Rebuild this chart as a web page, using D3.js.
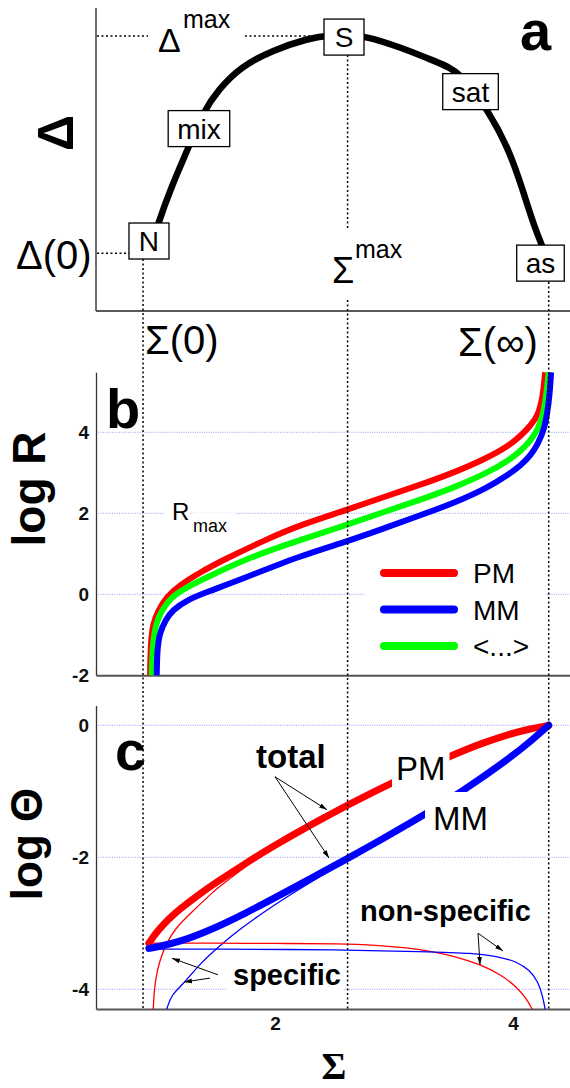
<!DOCTYPE html>
<html><head><meta charset="utf-8">
<script src="https://cdn.jsdelivr.net/npm/d3@7"></script>
<style>html,body{margin:0;padding:0;background:#fff;} svg{display:block;}</style>
</head><body>
<svg id="chart" width="570" height="1088"></svg>
<script>
// ---------- data ----------
const sigmaTicks = [2, 4];
const logRTicks = [-2, 0, 2, 4];
const logThetaTicks = [-4, -2, 0];
const sigmaRefLines = [0.891, 2.61, 4.30];          // Σ(0), Σmax, Σ(∞)
const deltaRefLines = [1.91, 9.08];                 // Δ(0), Δmax

// panel a: Δ vs Σ
const deltaSigma = [0.945, 1.018, 1.128, 1.275, 1.404, 1.523, 1.706, 1.982, 2.284, 2.45, 2.61, 2.75, 3.055, 3.358, 3.56, 3.79, 3.97, 4.09, 4.18, 4.25, 4.30];
const deltaValue = [1.91, 2.90, 4.09, 5.41, 6.63, 7.29, 8.05, 8.61, 9.00, 9.10, 9.12, 9.08, 8.71, 8.22, 7.89, 6.63, 5.31, 3.89, 2.77, 2.11, 1.52];
const stateLabels = ["N", "mix", "S", "sat", "as"];
const stateSigma = [0.941, 1.361, 2.58, 3.643, 4.231];
const stateDelta = [2.31, 6.02, 9.04, 7.24, 1.58];

// panel b: log R vs Σ
const rSigmaPM = [0.95, 0.955, 0.975, 1.02, 1.09, 1.20, 1.37, 1.56, 1.93, 2.21, 2.60, 2.91, 3.22, 3.50, 3.78, 3.97, 4.06, 4.15, 4.21, 4.25, 4.27];
const rPM = [-2.0, -1.20, -0.71, -0.39, -0.06, 0.23, 0.54, 0.84, 1.36, 1.71, 2.08, 2.40, 2.70, 3.00, 3.36, 3.68, 3.90, 4.17, 4.42, 4.85, 5.48];
const rSigmaMM = [1.006, 1.01, 1.03, 1.08, 1.14, 1.26, 1.43, 1.70, 2.21, 2.60, 2.91, 3.22, 3.50, 3.78, 3.97, 4.06, 4.15, 4.21, 4.26, 4.29, 4.31, 4.32];
const rMM = [-2.0, -1.38, -0.96, -0.63, -0.39, -0.14, 0.06, 0.35, 0.95, 1.30, 1.62, 1.95, 2.25, 2.62, 2.97, 3.17, 3.43, 3.72, 4.05, 4.5, 5.0, 5.48];
const rSigmaAvg = [0.964, 0.972, 1.0, 1.05, 1.13, 1.26, 1.43, 1.79, 2.21, 2.60, 2.91, 3.22, 3.50, 3.78, 3.97, 4.06, 4.15, 4.21, 4.25, 4.28, 4.30];
const rAvg = [-2.0, -1.20, -0.71, -0.39, -0.06, 0.18, 0.42, 0.92, 1.34, 1.71, 2.03, 2.33, 2.63, 2.99, 3.32, 3.53, 3.80, 4.08, 4.40, 4.9, 5.48];
const legendLabels = ["PM", "MM", "<...>"];

// panel c: log Θ vs Σ
const tSigmaPM = [0.94, 1.0, 1.1, 1.2, 1.35, 1.5, 1.75, 2.0, 2.3, 2.61, 3.0, 3.48, 3.75, 3.97, 4.15, 4.30];
const tPM = [-3.30, -3.144, -2.944, -2.784, -2.577, -2.387, -2.092, -1.817, -1.508, -1.207, -0.852, -0.458, -0.264, -0.132, -0.051, 0];
const tSigmaMM = [0.94, 1.0, 1.2, 1.48, 1.76, 2.04, 2.32, 2.61, 2.86, 3.27, 3.57, 3.97, 4.15, 4.30];
const tMM = [-3.38, -3.362, -3.282, -3.086, -2.840, -2.574, -2.302, -2.018, -1.768, -1.342, -1.006, -0.502, -0.241, 0];
const sSigmaPM = [0.977, 0.986, 1.01, 1.048, 1.09, 1.16, 1.29, 1.48, 1.60, 1.80, 2.0];
const sPM = [-4.30, -3.98, -3.71, -3.48, -3.30, -3.08, -2.85, -2.52, -2.35, -2.08, -1.83];
const sSigmaMM = [1.09, 1.13, 1.23, 1.37, 1.54, 1.71, 1.93, 2.10, 2.35, 2.61];
const sMM = [-4.30, -4.08, -3.92, -3.61, -3.33, -3.08, -2.80, -2.60, -2.32, -2.04];
const nSigmaPM = [0.94, 1.5, 2.0, 2.55, 2.85, 3.11, 3.33, 3.53, 3.72, 3.89, 4.03, 4.12, 4.16];
const nPM = [-3.30, -3.30, -3.305, -3.31, -3.33, -3.37, -3.43, -3.51, -3.62, -3.77, -3.96, -4.16, -4.30];
const nSigmaMM = [0.94, 1.5, 2.55, 3.25, 3.67, 3.89, 4.03, 4.14, 4.21, 4.25, 4.27];
const nMM = [-3.39, -3.39, -3.40, -3.43, -3.45, -3.51, -3.58, -3.71, -3.88, -4.11, -4.30];

// ---------- setup ----------
const SANS = "'Liberation Sans', Arial, sans-serif";
const SERIF = "'Liberation Serif', 'Times New Roman', serif";
const RED = "#ff0000", BLUE = "#0000ff", GREEN = "#00ff00";
const svg = d3.select("#chart");
const xLeft = 96, xRight = 570;

const x = d3.scaleLinear().domain([0, 4]).range([37, 513]);
const xAx = d3.scaleLinear().domain([x.invert(xLeft), x.invert(xRight)]).range([xLeft, xRight]);
const ya = d3.scaleLinear().domain([0, 10]).range([311, 8]);
const yb = d3.scaleLinear().domain([-2, 5.48]).range([675.3, 675.3 - 7.48 * 40.5]);
const yc = d3.scaleLinear().domain([-4.3, 0.3]).range([1009.1, 1009.1 - 4.6 * 66]);

const defs = svg.append("defs");
defs.append("marker").attr("id", "ah").attr("viewBox", "0 0 10 10")
  .attr("refX", 10).attr("refY", 5).attr("markerWidth", 8).attr("markerHeight", 8)
  .attr("markerUnits", "userSpaceOnUse").attr("orient", "auto")
  .append("path").attr("d", "M0,2 L10,5 L0,8 Z").attr("fill", "#000");

const gGrid = svg.append("g");
const gAxes = svg.append("g");
const gCurves = svg.append("g");
const gDot = svg.append("g");
const gBoxes = svg.append("g");
const gBg = svg.append("g");
const gText = svg.append("g");
const gArrows = svg.append("g");

const mkLine = (xs, ys, yS) => d3.line().curve(d3.curveBasis)(xs.map((s, i) => [x(s), yS(ys[i])]));

function txt(px, py, s, size, o = {}) {
  const t = gText.append("text").attr("x", px).attr("y", py).text(s)
    .style("font-size", size + "px").attr("font-family", o.f || SANS)
    .attr("font-weight", o.w || "normal").attr("text-anchor", o.a || "start").attr("fill", "#000");
  if (o.tr) t.attr("transform", o.tr);
  if (o.bg) {
    const b = t.node().getBBox(); const p = o.bg;
    gBg.append("rect").attr("x", b.x - p[3]).attr("y", b.y - p[0])
      .attr("width", b.width + p[1] + p[3]).attr("height", b.height + p[0] + p[2]).attr("fill", "#fff");
  }
  return t;
}

function dotted(x1, y1, x2, y2) {
  gDot.append("line").attr("x1", x1).attr("y1", y1).attr("x2", x2).attr("y2", y2)
    .attr("stroke", "#000").attr("stroke-width", 1.5).attr("stroke-dasharray", "2,2.5");
}

function grid(yS, vals) {
  vals.forEach(v => gGrid.append("line").attr("x1", xLeft).attr("x2", xRight)
    .attr("y1", yS(v)).attr("y2", yS(v)).attr("stroke", "#8f8fff").attr("stroke-width", 0.9)
    .attr("stroke-dasharray", "1,1.3"));
}

function styleAxis(g, color, width) {
  g.attr("font-size", null).attr("font-family", null);
  g.select(".domain").attr("stroke", color).attr("stroke-width", width);
  g.selectAll("text").style("font-family", SANS).style("font-weight", "bold").style("font-size", "19px").attr("fill", "#111");
}

// ---------- panel a ----------
gAxes.append("line").attr("x1", xLeft).attr("x2", xLeft).attr("y1", ya(10)).attr("y2", ya(0)).attr("stroke", "#222").attr("stroke-width", 1.3);
gAxes.append("line").attr("x1", xLeft).attr("x2", xRight).attr("y1", ya(0)).attr("y2", ya(0)).attr("stroke", "#222").attr("stroke-width", 1.6);

gCurves.append("path").attr("d", mkLine(deltaSigma, deltaValue, ya)).attr("fill", "none")
  .attr("stroke", "#000").attr("stroke-width", 6.5);

// reference dotted lines
dotted(xLeft + 1, ya(deltaRefLines[0]), 148, ya(deltaRefLines[0]));
dotted(xLeft + 1, ya(deltaRefLines[1]), 148, ya(deltaRefLines[1]));
dotted(245, ya(deltaRefLines[1]), 325, ya(deltaRefLines[1]));
dotted(x(sigmaRefLines[0]), 259, x(sigmaRefLines[0]), yc(-4.3));
dotted(x(sigmaRefLines[1]), 55, x(sigmaRefLines[1]), 228);
dotted(x(sigmaRefLines[1]), 300, x(sigmaRefLines[1]), yc(-4.3));
dotted(x(sigmaRefLines[2]), 282, x(sigmaRefLines[2]), yc(-4.3));

// state boxes
stateLabels.forEach((lab, i) => {
  const cx = x(stateSigma[i]), cy = ya(stateDelta[i]);
  const t = gBoxes.append("text").attr("x", cx).attr("y", cy + 10).text(lab)
    .style("font-size", "28px").attr("font-family", SANS).attr("text-anchor", "middle");
  const w = t.node().getBBox().width;
  const bw = Math.max(40, w + 18), bh = 36;
  gBoxes.insert("rect", () => t.node()).attr("x", cx - bw / 2).attr("y", cy - bh / 2)
    .attr("width", bw).attr("height", bh).attr("fill", "#fff").attr("stroke", "#000").attr("stroke-width", 1.3);
});

txt(73, 133, "Δ", 50, { w: "bold", a: "middle", tr: "rotate(-90,73,133)" });
txt(158, 52, "Δ", 34);
txt(183, 28, "max", 25);
txt(16, 269, "Δ(0)", 40);
txt(332, 283, "Σ", 36);
txt(355, 258, "max", 25);
txt(145, 354, "Σ(0)", 40);
txt(458, 356, "Σ(∞)", 40);
txt(520, 50, "a", 56, { w: "bold" });

// ---------- panel b ----------
grid(yb, logRTicks.filter(v => v > -2));
const axB = gAxes.append("g").attr("transform", `translate(${xLeft},0)`)
  .call(d3.axisLeft(yb).tickValues(logRTicks).tickSize(0).tickPadding(7).tickFormat(d => String(d)));
styleAxis(axB, "#333", 1.3);
const axBx = gAxes.append("g").attr("transform", `translate(0,${yb(-2)})`)
  .call(d3.axisBottom(xAx).tickValues([]).tickSize(0));
styleAxis(axBx, "#555", 2);

[[rSigmaPM, rPM, RED], [rSigmaAvg, rAvg, GREEN], [rSigmaMM, rMM, BLUE]].forEach(([xs, ys, c]) => {
  gCurves.append("path").attr("d", mkLine(xs, ys, yb)).attr("fill", "none")
    .attr("stroke", c).attr("stroke-width", 6);
});

txt(106, 428, "b", 56, { w: "bold" });
txt(45, 489, "log R", 46, { w: "bold", a: "middle", tr: "rotate(-90,45,489)" });
txt(172, 520, "R", 24, { bg: [3, 0, 3, 8] });
txt(193, 532, "max", 18, { bg: [3, 8, 3, 0] });

// legend
gBg.append("rect").attr("x", 365).attr("y", 553).attr("width", 180).attr("height", 112).attr("fill", "#fff");
const legColors = [RED, BLUE, GREEN];
legendLabels.forEach((lab, i) => {
  const ly = 573 + i * 36.5;
  gText.append("line").attr("x1", 384).attr("x2", 454).attr("y1", ly).attr("y2", ly)
    .attr("stroke", legColors[i]).attr("stroke-width", 8).attr("stroke-linecap", "round");
  txt(473, ly + 10, lab, 28);
});

// ---------- panel c ----------
grid(yc, logThetaTicks);
const axC = gAxes.append("g").attr("transform", `translate(${xLeft},0)`)
  .call(d3.axisLeft(yc).tickValues(logThetaTicks).tickSize(0).tickPadding(7).tickFormat(d => String(d)));
styleAxis(axC, "#333", 1.3);
const axCx = gAxes.append("g").attr("transform", `translate(0,${yc(-4.3)})`)
  .call(d3.axisBottom(xAx).tickValues(sigmaTicks).tickSize(0).tickPadding(7).tickFormat(d => String(d)));
styleAxis(axCx, "#555", 2);

[[sSigmaPM, sPM, RED], [sSigmaMM, sMM, BLUE], [nSigmaPM, nPM, RED], [nSigmaMM, nMM, BLUE]].forEach(([xs, ys, c]) => {
  gCurves.append("path").attr("d", mkLine(xs, ys, yc)).attr("fill", "none")
    .attr("stroke", c).attr("stroke-width", 1.3);
});
[[tSigmaPM, tPM, RED], [tSigmaMM, tMM, BLUE]].forEach(([xs, ys, c]) => {
  gCurves.append("path").attr("d", mkLine(xs, ys, yc)).attr("fill", "none")
    .attr("stroke", c).attr("stroke-width", 7).attr("stroke-linecap", "round");
});

txt(115, 770, "c", 56, { w: "bold" });
txt(42, 844, "log Θ", 44, { w: "bold", a: "middle", tr: "rotate(-90,42,844)" });
txt(256, 768, "total", 33, { w: "bold" });
txt(396, 780, "PM", 33, { bg: [2, 4, 2, 4] });
txt(433, 830, "MM", 33, { bg: [8, 4, 0, 8] });
txt(360, 921, "non-specific", 29, { w: "bold" });
txt(233, 985, "specific", 29, { w: "bold", bg: [0, 2, 2, 6] });
txt(334, 1079, "Σ", 38, { f: SERIF, a: "middle", w: "bold" });

// annotation arrows (data coordinates: Σ, log Θ)
const arrows = [
  [[2.0, -0.78], [2.437, -1.28]],
  [[2.0, -0.78], [2.454, -2.01]],
  [[1.521, -3.78], [1.134, -3.53]],
  [[1.454, -3.83], [1.235, -3.89]],
  [[3.706, -3.15], [3.916, -3.42]],
  [[3.706, -3.15], [3.723, -3.63]]
];
arrows.forEach(([a, b]) => {
  gArrows.append("line").attr("x1", x(a[0])).attr("y1", yc(a[1])).attr("x2", x(b[0])).attr("y2", yc(b[1]))
    .attr("stroke", "#000").attr("stroke-width", 1).attr("marker-end", "url(#ah)");
});
</script>
</body></html>
